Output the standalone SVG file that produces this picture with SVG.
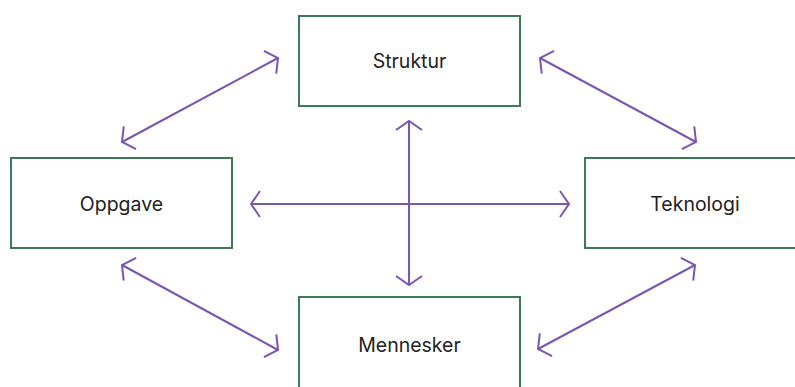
<svg xmlns="http://www.w3.org/2000/svg" width="795" height="387" viewBox="0 0 795 387">
<style>
.box{fill:#fff;stroke:#3d7a57;stroke-width:2}
.lbl{font-family:Inter,"Liberation Sans",sans-serif;font-size:19.5px;fill:#222;text-anchor:middle;dominant-baseline:central}
.c{stroke:#7b55b3;stroke-width:2;fill:none;marker-start:url(#ah);marker-end:url(#ah)}
</style>
<defs>
<marker id="ah" markerUnits="userSpaceOnUse" markerWidth="30" markerHeight="30" refX="15" refY="15" orient="auto-start-reverse" viewBox="0 0 30 30">
<path d="M6,2 L15,15 L6,28" fill="none" stroke="#7b55b3" stroke-width="2"/>
</marker>
</defs>
<rect width="795" height="387" fill="#fff"/>
<g id="struktur"><rect class="box" x="299" y="16" width="221" height="90"/><text class="lbl" x="409.5" y="61">Struktur</text></g>
<g id="oppgave"><rect class="box" x="11" y="158" width="221" height="90"/><text class="lbl" x="121.5" y="204">Oppgave</text></g>
<g id="teknologi"><rect class="box" x="585" y="158" width="230" height="90"/><text class="lbl" x="695" y="204">Teknologi</text></g>
<g id="mennesker"><rect class="box" x="299" y="297" width="221" height="100"/><text class="lbl" x="409.5" y="345">Mennesker</text></g>
<g id="connectors">
<line class="c" x1="409" y1="121" x2="409" y2="285"/>
<line class="c" x1="251" y1="204" x2="569" y2="204"/>
<line class="c" x1="122" y1="142" x2="278" y2="58"/>
<line class="c" x1="540" y1="58" x2="696" y2="142"/>
<line class="c" x1="122" y1="265" x2="278" y2="350"/>
<line class="c" x1="538" y1="349" x2="695" y2="265"/>
</g>
</svg>
